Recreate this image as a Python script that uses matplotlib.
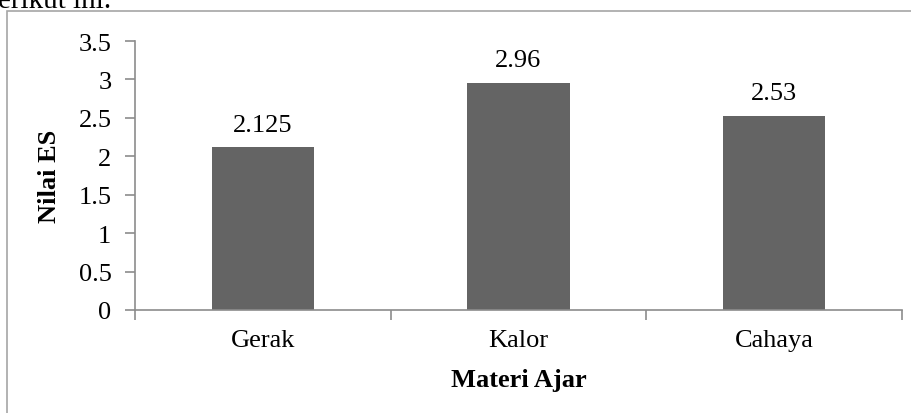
import matplotlib
matplotlib.use("Agg")
import matplotlib.pyplot as plt
from matplotlib.patches import Rectangle

# Effect size per teaching material
categories = ["Gerak", "Kalor", "Cahaya"]
values = [2.125, 2.96, 2.53]
value_labels = ["2.125", "2.96", "2.53"]
y_ticks = [0, 0.5, 1, 1.5, 2, 2.5, 3, 3.5]
y_tick_labels = ["0", "0.5", "1", "1.5", "2", "2.5", "3", "3.5"]

plt.rcParams["font.family"] = ["Liberation Serif", "DejaVu Serif"]

W, H = 912, 414
FS = 19
fig = plt.figure(figsize=(W / 100, H / 100), dpi=100)

# document text line above the chart (partly cut off)
fig.text(-2 / W, 1 - 8 / H, "erikut ini.", fontsize=21, ha="left",
         va="baseline", color="black")

# chart frame
fig.patches.append(Rectangle((7 / W, -0.1), 1.2, 1 - 12 / H + 0.1,
                             transform=fig.transFigure, fill=False,
                             edgecolor="#a6a6a6", linewidth=1.2))

ax = fig.add_axes([135 / W, 1 - 311 / H, (902 - 135) / W, (311 - 42) / H])

x = range(len(categories))
ax.bar(x, values, width=0.4, color="#646464", zorder=2)

for xi, v, lab in zip(x, values, value_labels):
    ax.annotate(lab, (xi, v), xytext=(0, 8), textcoords="offset points",
                ha="center", va="bottom", fontsize=FS)

ax.set_xlim(-0.5, len(categories) - 0.5)
ax.set_ylim(0, 3.5)
ax.set_yticks(y_ticks)
ax.set_yticklabels(y_tick_labels, fontsize=FS)

ax.set_xticks(list(x))
ax.set_xticklabels(categories, fontsize=FS)
ax.tick_params(axis="x", length=0, pad=14)
ax.set_xticks([-0.5, 0.5, 1.5, 2.5], minor=True)
ax.tick_params(axis="x", which="minor", length=7, color="#8c8c8c", width=1.2)
ax.tick_params(axis="y", length=7, color="#8c8c8c", width=1.2, pad=10)

for s in ["top", "right"]:
    ax.spines[s].set_visible(False)
for s in ["left", "bottom"]:
    ax.spines[s].set_color("#8c8c8c")
    ax.spines[s].set_linewidth(1.2)

ax.set_ylabel("Nilai ES", fontsize=FS, fontweight="bold")
ax.set_xlabel("Materi Ajar", fontsize=FS, fontweight="bold", labelpad=12)
ax.yaxis.set_label_coords(-(135 - 61) / (902 - 135), 0.5)

fig.savefig("out.png", dpi=100)
